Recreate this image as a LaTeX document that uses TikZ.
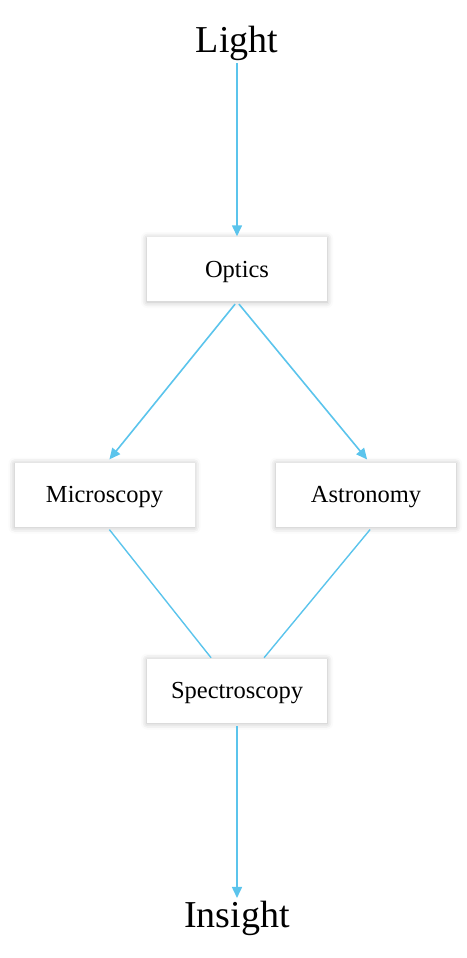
\documentclass[tikz,border=0pt]{standalone}
\usepackage{fontspec}
\setmainfont{Liberation Serif}
\usetikzlibrary{arrows.meta, positioning, shadows.blur}
\definecolor{cblue}{HTML}{5BC4EC}
\definecolor{cgrey}{HTML}{6B6B6B}
\tikzset{
  every picture/.style={line width=1.5pt},
  box/.style={draw=none, fill=white, minimum width=180pt, minimum height=64pt, align=center,
    font=\fontsize{24.5}{28}\selectfont, text height=20pt, text depth=4pt,
    blur shadow={shadow xshift=0pt, shadow yshift=-1pt, shadow blur radius=6pt, shadow opacity=28}},
  arrow/.style={-{Triangle[length=11pt, width=10pt]}, draw=cblue, line width=1.6pt},
  link/.style={draw=cblue, line width=1.4pt},
  title/.style={font=\fontsize{38}{43}\selectfont, inner sep=2pt},
}

\begin{document}
\begin{tikzpicture}[x=1pt, y=-1pt]
  \useasboundingbox (0,0) rectangle (466,958);

  % start and end
  \node[title] (light) at (237,43) {Light};
  \node[title] (insight) at (237,918) {Insight};

  % fields
  \node[box] (opt) at (237,269) {Optics};
  \node[box] (mic) at (104.5,494.5) {Microscopy};
  \node[box] (ast) at (366,494.5) {Astronomy};
  \node[box] (spec) at (237,690.5) {Spectroscopy};

  \draw[arrow] (light) -- (opt);
  \draw[arrow, shorten <=3pt, shorten >=3pt] (opt.south) -- ([xshift=3pt]mic.north);
  \draw[arrow, shorten <=3pt, shorten >=3pt] (opt.south) -- ([xshift=3pt]ast.north);
  \draw[link, shorten <=3pt] ([xshift=3pt]mic.south) -- (spec);
  \draw[link, shorten <=3pt] ([xshift=6pt]ast.south) -- (spec);
  \draw[arrow, shorten <=3pt] (spec) -- (insight);
\end{tikzpicture}
\end{document}
